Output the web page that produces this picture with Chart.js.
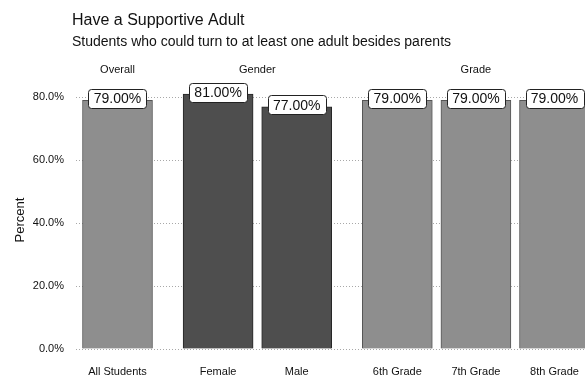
<!DOCTYPE html>
<html>
<head>
<meta charset="utf-8">
<script src="https://cdn.jsdelivr.net/npm/chart.js@4/dist/chart.umd.min.js"></script>
<style>
  html, body { margin: 0; padding: 0; background: #fff; }
  canvas { display: block; }
</style>
</head>
<body>
<canvas id="myChart" width="585" height="377"></canvas>
<script>
// Chart text
const chartTitle = 'Have a Supportive Adult';
const chartSubtitle = 'Students who could turn to at least one adult besides parents';

// Bars, grouped under a header
const groups = ['Overall', 'Gender', 'Grade'];
const categories = ['All Students', 'Female', 'Male', '6th Grade', '7th Grade', '8th Grade'];
const categoryGroup = [0, 1, 1, 2, 2, 2];
const percents = [79, 81, 77, 79, 79, 79];

// y axis tick values
const yTicks = [0, 20, 40, 60, 80];

// extra space between groups, in bar slots
const GROUP_GAP = 0.28;
const groupColors = ['#8e8e8e', '#4e4e4e', '#8e8e8e'];
const groupBorders = ['#555555', '#262626', '#555555'];

const FONT = 'Arial, "Liberation Sans", sans-serif';

const xPositions = categories.map((c, i) => i + categoryGroup[i] * GROUP_GAP);

// title, subtitle, group headers and value boxes
const decorations = {
  id: 'decorations',
  afterDraw(chart) {
    const ctx = chart.ctx;
    const xScale = chart.scales.x;
    ctx.save();
    ctx.fillStyle = '#111';
    ctx.textAlign = 'left';
    ctx.textBaseline = 'middle';
    ctx.font = '16px ' + FONT;
    ctx.fillText(chartTitle, 72, 21);
    ctx.font = '14px ' + FONT;
    ctx.fillText(chartSubtitle, 72, 42);

    ctx.font = '11px ' + FONT;
    ctx.textAlign = 'center';
    groups.forEach((g, gi) => {
      const members = xPositions.filter((x, i) => categoryGroup[i] === gi);
      const mid = (members[0] + members[members.length - 1]) / 2;
      ctx.fillText(g, xScale.getPixelForValue(mid), 70);
    });

    const meta = chart.getDatasetMeta(0);
    ctx.font = '14px ' + FONT;
    meta.data.forEach((bar, i) => {
      const w = 58, h = 19;
      const cx = bar.x, cy = bar.y - 2;
      ctx.beginPath();
      ctx.roundRect(Math.round(cx - w / 2) + 0.5, Math.round(cy - h / 2) + 0.5, w, h, 3);
      ctx.fillStyle = '#fff';
      ctx.fill();
      ctx.strokeStyle = '#222';
      ctx.lineWidth = 1;
      ctx.stroke();
      ctx.fillStyle = '#111';
      ctx.fillText(percents[i].toFixed(2) + '%', cx, cy + 1);
    });
    ctx.restore();
  }
};

new Chart(document.getElementById('myChart'), {
  type: 'bar',
  data: {
    datasets: [{
      label: 'Percent',
      data: percents.map((p, i) => ({ x: xPositions[i], y: p })),
      backgroundColor: categoryGroup.map(g => groupColors[g]),
      borderColor: categoryGroup.map(g => groupBorders[g]),
      borderWidth: 1,
      barThickness: 70
    }]
  },
  options: {
    responsive: false,
    animation: false,
    devicePixelRatio: 1,
    layout: { padding: { top: 91, left: 9, right: 0, bottom: 0 } },
    plugins: {
      legend: { display: false },
      tooltip: { enabled: false }
    },
    scales: {
      x: {
        type: 'linear',
        offset: false,
        min: -0.528,
        max: 5.948,
        grid: { display: false, drawTicks: false, offset: false },
        border: { display: false },
        afterBuildTicks: scale => {
          scale.ticks = xPositions.map(v => ({ value: v }));
        },
        // labels sit well inside the plot, no edge padding needed
        afterFit: scale => {
          scale.paddingLeft = 0;
          scale.paddingRight = 0;
          scale.height = 28;
        },
        ticks: {
          autoSkip: false,
          maxRotation: 0,
          padding: 17,
          color: '#111',
          font: { family: FONT, size: 11, lineHeight: 1 },
          callback: (v, i) => categories[i]
        }
      },
      y: {
        min: 0,
        max: 82,
        grid: { color: '#a8a8a8', drawTicks: false },
        border: { display: false, dash: [1, 2] },
        afterBuildTicks: scale => {
          scale.ticks = yTicks.map(v => ({ value: v }));
        },
        afterFit: scale => {
          scale.width = 67;
        },
        ticks: {
          padding: 12,
          color: '#111',
          font: { family: FONT, size: 11 },
          callback: v => v.toFixed(1) + '%'
        },
        title: {
          display: true,
          text: 'Percent',
          color: '#111',
          font: { family: FONT, size: 13 }
        }
      }
    }
  },
  plugins: [decorations]
});
</script>
</body>
</html>
